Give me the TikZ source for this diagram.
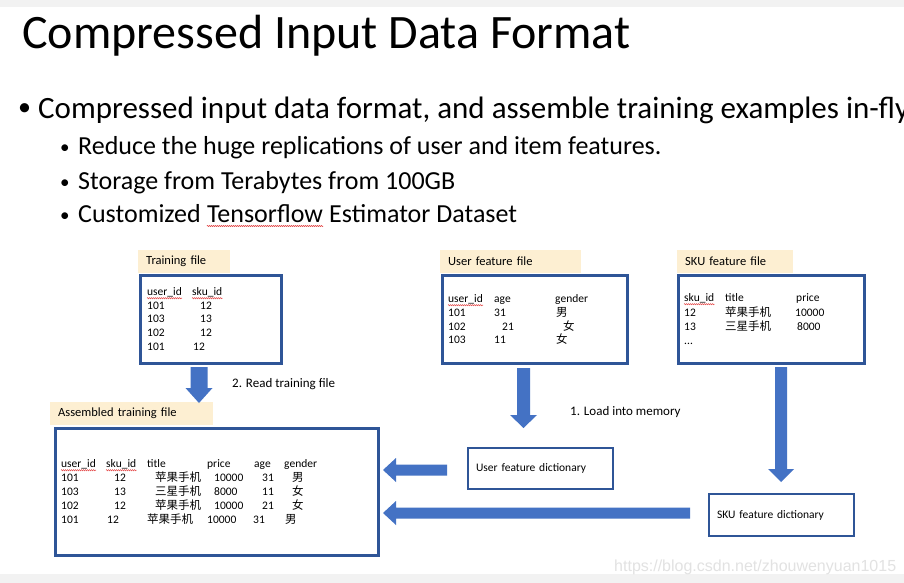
\documentclass[tikz,border=0pt]{standalone}
\usepackage{fontspec}
\setmainfont{Carlito}
\newfontfamily\cjk{Noto Sans CJK SC}
\newfontfamily\wmfont{Liberation Sans}
\usetikzlibrary{calc,decorations.pathmorphing}
\definecolor{boxblue}{HTML}{2F5597}
\definecolor{arrowblue}{HTML}{4472C4}
\definecolor{lblfill}{HTML}{FDEFD2}
\definecolor{stripgray}{HTML}{F2F2F2}
\definecolor{wmgray}{HTML}{E2E2E2}
\definecolor{squigred}{HTML}{E03030}
\newcommand\FS[1]{\fontsize{#1}{#1}\selectfont}
\newcommand\cell[4]{\node[cell] (#1) at (#2,#3) {#4};}
\newcommand\squig[1]{\draw[squiggle] ($(#1.base west)+(0,3.2)$) -- ($(#1.base east)+(0,3.2)$);}
% vertical block arrow: start, tip, shaft half width, head half width, head length
\newcommand\VArrow[5]{\fill[blockarrow] ($(#1)+(-#3,0)$) -- ($(#1)+(#3,0)$) -- ($(#2)+(#3,-#5)$) -- ($(#2)+(#4,-#5)$) -- (#2) -- ($(#2)+(-#4,-#5)$) -- ($(#2)+(-#3,-#5)$) -- cycle;}
% left-pointing block arrow: start (right end), tip, shaft half, head half, head length
\newcommand\LArrow[5]{\fill[blockarrow] ($(#1)+(0,-#3)$) -- ($(#1)+(0,#3)$) -- ($(#2)+(#5,#3)$) -- ($(#2)+(#5,#4)$) -- (#2) -- ($(#2)+(#5,-#4)$) -- ($(#2)+(#5,-#3)$) -- cycle;}
\tikzset{
  cell/.style={anchor=base west, inner sep=0pt, font=\FS{11.5}},
  note/.style={anchor=base west, inner sep=0pt, font=\FS{13}},
  lblbox/.style={fill=lblfill, anchor=north west, inner xsep=8pt, inner ysep=0pt, align=left, font=\FS{12.5}},
  filebox/.style={draw=boxblue, line width=2.5pt, anchor=north west, inner sep=0pt},
  dictbox/.style={draw=boxblue, line width=2.2pt, anchor=north west, inner xsep=8pt, inner ysep=0pt, align=left, font=\FS{11.5}},
  blockarrow/.style={fill=arrowblue},
  squiggle/.style={draw=squigred, line width=0.45pt, decorate, decoration={snake, amplitude=0.6pt, segment length=2pt}},
  bigtext/.style={anchor=base west, inner sep=0pt}
}
\begin{document}
\begin{tikzpicture}[x=1pt,y=-1pt]
\useasboundingbox (0,0) rectangle (904,583);
\clip (0,0) rectangle (904,583);
\fill[white] (0,0) rectangle (904,583);
\fill[stripgray] (0,0) rectangle (904,7);
\fill[stripgray] (0,574) rectangle (904,583);

% title and bullets
\node[bigtext, font=\FS{48}] (title) at (22,49) {Compressed Input Data Format};
\node[bigtext, font=\FS{26}] (b1dot) at (18,116) {•};
\node[bigtext, font=\FS{31}] (b1) at (38,118) {Compressed input data format, and assemble training examples in-fly};
\node[bigtext, font=\FS{19}] (b2dot) at (60,153) {•};
\node[bigtext, font=\FS{26}] (b2) at (78,154) {Reduce the huge replications of user and item features.};
\node[bigtext, font=\FS{19}] (b3dot) at (60,188) {•};
\node[bigtext, font=\FS{26}] (b3) at (78,189) {Storage from Terabytes from 100GB};
\node[bigtext, font=\FS{19}] (b4dot) at (60,221) {•};
\node[bigtext, font=\FS{26}] (b4a) at (78,222) {Customized};
\node[bigtext, font=\FS{26}] (tfw) at ([xshift=5.9pt]b4a.base east) {Tensorflow};
\node[bigtext, font=\FS{26}] (b4b) at ([xshift=5.9pt]tfw.base east) {Estimator Dataset};
\draw[squiggle] ($(tfw.base west)+(0,4)$) -- ($(tfw.base east)+(0,4)$);

% labels
\node[lblbox, text width=76pt, minimum height=23pt] (tflbl) at (138,250) {Training file};
\node[lblbox, text width=125pt, minimum height=23pt] (uflbl) at (440,250) {User feature file};
\node[lblbox, text width=100pt, minimum height=23pt] (sflbl) at (677,250) {SKU feature file};
\node[lblbox, text width=147pt, minimum height=23pt] (aslbl) at (50,402) {Assembled training file};

% boxes
\node[filebox, minimum width=141pt, minimum height=88pt] (tfbox) at (139,274) {};
\node[filebox, minimum width=185pt, minimum height=88pt] (ufbox) at (441,274) {};
\node[filebox, minimum width=186pt, minimum height=88pt] (sfbox) at (677,274) {};
\node[filebox, minimum width=323pt, minimum height=127pt] (asbox) at (54,427) {};
\node[dictbox, text width=129pt, minimum height=41pt] (udict) at (467,447) {User feature dictionary};
\node[dictbox, text width=129pt, minimum height=42pt] (sdict) at (708,493) {SKU feature dictionary};

% training file content
\cell{tu}{147}{295}{user\_id} \cell{ts}{192}{295}{sku\_id}
\cell{t11}{147}{309}{101} \cell{t12}{200}{309}{12}
\cell{t21}{147}{322}{103} \cell{t22}{200}{322}{13}
\cell{t31}{147}{336}{102} \cell{t32}{200}{336}{12}
\cell{t41}{147}{350}{101} \cell{t42}{193}{350}{12}
\squig{tu} \squig{ts}

% user feature content
\cell{uu}{448}{302}{user\_id} \cell{ua}{494}{302}{age} \cell{ug}{555}{302}{gender}
\cell{u11}{448}{316}{101} \cell{u12}{494}{316}{31} \cell{u13}{556}{316}{\cjk 男}
\cell{u21}{448}{330}{102} \cell{u22}{502}{330}{21} \cell{u23}{563}{330}{\cjk 女}
\cell{u31}{448}{343}{103} \cell{u32}{494}{343}{11} \cell{u33}{556}{343}{\cjk 女}
\squig{uu}

% sku feature content
\cell{ss}{684}{301}{sku\_id} \cell{st}{725}{301}{title} \cell{sp}{796}{301}{price}
\cell{s11}{684}{316}{12} \cell{s12}{725}{316}{\cjk 苹果手机} \cell{s13}{795}{316}{10000}
\cell{s21}{684}{330}{13} \cell{s22}{725}{330}{\cjk 三星手机} \cell{s23}{797}{330}{8000}
\cell{s31}{684}{344}{...}
\squig{ss}

% assembled content
\cell{au}{61}{467}{user\_id} \cell{as}{106}{467}{sku\_id} \cell{at}{147}{467}{title}
\cell{ap}{207}{467}{price} \cell{aa}{254}{467}{age} \cell{ag}{284}{467}{gender}
\cell{a11}{61}{481}{101} \cell{a12}{114}{481}{12} \cell{a13}{155}{481}{\cjk 苹果手机}
\cell{a14}{214}{481}{10000} \cell{a15}{262}{481}{31} \cell{a16}{292}{481}{\cjk 男}
\cell{a21}{61}{495}{103} \cell{a22}{114}{495}{13} \cell{a23}{155}{495}{\cjk 三星手机}
\cell{a24}{214}{495}{8000} \cell{a25}{262}{495}{11} \cell{a26}{292}{495}{\cjk 女}
\cell{a31}{61}{509}{102} \cell{a32}{114}{509}{12} \cell{a33}{155}{509}{\cjk 苹果手机}
\cell{a34}{214}{509}{10000} \cell{a35}{262}{509}{21} \cell{a36}{292}{509}{\cjk 女}
\cell{a41}{61}{523}{101} \cell{a42}{107}{523}{12} \cell{a43}{147}{523}{\cjk 苹果手机}
\cell{a44}{207}{523}{10000} \cell{a45}{253}{523}{31} \cell{a46}{285}{523}{\cjk 男}
\squig{au} \squig{as}

% block arrows
\coordinate (rdS) at (199,367); \coordinate (rdT) at (199,403);
\VArrow{rdS}{rdT}{8.5}{13.5}{15}
\coordinate (ldS) at (523.5,368); \coordinate (ldT) at (523.5,428);
\VArrow{ldS}{ldT}{6.5}{13.5}{13}
\coordinate (skS) at (781,367); \coordinate (skT) at (781,482);
\VArrow{skS}{skT}{6}{13}{13}
\coordinate (uaS) at (447,470); \coordinate (uaT) at (383,470);
\LArrow{uaS}{uaT}{5.5}{12}{13}
\coordinate (saS) at (690,513); \coordinate (saT) at (383,513);
\LArrow{saS}{saT}{5.5}{12}{13}

% arrow labels
\node[note] (rdlbl) at (232,387) {2. Read training file};
\node[note] (ldlbl) at (570,415) {1. Load into memory};

% watermark
\node[anchor=base west, inner sep=0pt, font=\wmfont\FS{16}, text=wmgray] (wm) at (614,571) {https://blog.csdn.net/zhouwenyuan1015};
\end{tikzpicture}
\end{document}
